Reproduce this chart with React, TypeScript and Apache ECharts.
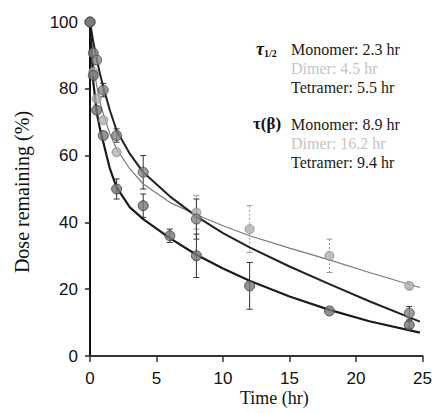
import React, { useEffect, useRef } from "react";
import * as echarts from "echarts";

// Measured data points: [time (hr), dose remaining (%)]
const monomerTimes = [0, 0.25, 0.5, 1, 2, 4, 6, 8, 12, 18, 24];
const monomerValues = [100, 84, 73.6, 66, 50, 45, 36, 30, 21, 13.5, 9.3];
const monomerErrors = [0, 0, 0, 0, 3, 3.5, 2, 6.5, 7, 0, 1];

const dimerTimes = [0, 0.25, 0.5, 1, 2, 8, 12, 18, 24];
const dimerValues = [100, 85, 77, 70.6, 61, 43, 38, 30, 21];
const dimerErrors = [0, 0, 0, 0, 0, 5, 7, 5, 1];

const tetramerTimes = [0, 0.25, 0.5, 1, 2, 4, 8, 24];
const tetramerValues = [100, 90.7, 88.6, 79.6, 66, 55, 41, 12.8];
const tetramerErrors = [0, 0, 0, 2, 2, 5, 6, 2];

// Fitted curves
const curveTimes = [0, 0.25, 0.5, 0.75, 1, 1.5, 2, 3, 4, 6, 8, 10, 12, 15, 18, 21, 24.8];
const monomerCurve = [100, 82, 73, 68, 64, 56, 50.5, 44.5, 41, 35.3, 30.3, 26.2, 22.5, 17.8, 13.8, 10.4, 7];
const dimerCurve = [100, 88, 81, 76, 72.5, 66.5, 62, 56, 51.5, 46, 42.3, 39, 36, 32.3, 28.8, 25, 20.5];
const tetramerCurve = [100, 94, 89, 84.5, 80.5, 73.5, 67.5, 60.5, 55, 47.8, 41.8, 36.8, 32.5, 26.8, 21.5, 16.4, 10.3];

const xTicks = [0, 5, 10, 15, 20, 25];
const yTicks = [0, 20, 40, 60, 80, 100];

const halfLifeLabels = ["Monomer: 2.3 hr", "Dimer: 4.5 hr", "Tetramer: 5.5 hr"];
const betaLabels = ["Monomer: 8.9 hr", "Dimer: 16.2 hr", "Tetramer: 9.4 hr"];

const zip = (a: number[], b: number[]) => a.map((x, i) => [x, b[i]]);
const zip3 = (a: number[], b: number[], c: number[]) => a.map((x, i) => [x, b[i], c[i]]);

const SERIF = "Liberation Serif";
const SANS = "Liberation Sans";

function errorSeries(data: number[][], color: string, dashed: boolean) {
  return {
    type: "custom",
    z: 1,
    silent: true,
    data: data.filter((d) => d[2] > 0),
    renderItem: (params: any, api: any) => {
      const t = api.value(0);
      const v = api.value(1);
      const e = api.value(2);
      const top = api.coord([t, v + e]);
      const bot = api.coord([t, v - e]);
      const style = { stroke: color, lineWidth: 1, lineDash: dashed ? [2, 2] : null };
      return {
        type: "group",
        children: [
          { type: "line", shape: { x1: top[0], y1: top[1], x2: bot[0], y2: bot[1] }, style },
          { type: "line", shape: { x1: top[0] - 3, y1: top[1], x2: top[0] + 3, y2: top[1] }, style: { stroke: color, lineWidth: 1 } },
          { type: "line", shape: { x1: bot[0] - 3, y1: bot[1], x2: bot[0] + 3, y2: bot[1] }, style: { stroke: color, lineWidth: 1 } },
        ],
      };
    },
  };
}

export default function App() {
  const ref = useRef<HTMLDivElement>(null);
  useEffect(() => {
    if (!ref.current) return;
    const chart = echarts.init(ref.current, undefined, { renderer: "svg" });
    const textLines = (labels: string[], y0: number) =>
      labels.map((s, i) => ({
        type: "text",
        left: 291,
        top: y0 + i * 19 - 9,
        style: {
          text: s,
          fontFamily: SERIF,
          fontSize: 16,
          fill: i === 1 ? "#c4c4c4" : "#1a1a1a",
        },
      }));
    const line = (data: number[], color: string, width: number) => ({
      type: "line",
      data: zip(curveTimes, data),
      smooth: false,
      showSymbol: false,
      symbol: "none",
      lineStyle: { color, width },
      z: 2,
    });
    chart.setOption({
      animation: false,
      backgroundColor: "#ffffff",
      grid: { left: 90, right: 11, top: 22, bottom: 57 },
      xAxis: {
        type: "value",
        min: 0,
        max: 25,
        interval: 5,
        axisLine: { show: true, onZero: false, lineStyle: { color: "#333", width: 2 } },
        axisTick: { show: true, length: 6, lineStyle: { color: "#333", width: 1.5 } },
        axisLabel: {
          margin: 14,
          fontSize: 17,
          fontFamily: SANS,
          color: "#111",
          formatter: (v: number) => (xTicks.includes(v) ? String(v) : ""),
        },
        splitLine: { show: false },
      },
      yAxis: {
        type: "value",
        min: 0,
        max: 100,
        interval: 20,
        axisLine: { show: true, lineStyle: { color: "#111", width: 2 } },
        axisTick: { show: true, length: 5, lineStyle: { color: "#222", width: 1.5 } },
        axisLabel: {
          margin: 12,
          fontSize: 17,
          fontFamily: SANS,
          color: "#111",
          formatter: (v: number) => (yTicks.includes(v) ? String(v) : ""),
        },
        splitLine: { show: false },
      },
      graphic: [
        {
          type: "text",
          left: 240,
          top: 389,
          style: { text: "Time (hr)", fontFamily: SERIF, fontSize: 18, fill: "#111" },
        },
        {
          type: "text",
          x: 22,
          y: 192,
          rotation: Math.PI / 2,
          style: {
            text: "Dose remaining (%)",
            fontFamily: SERIF,
            fontSize: 20,
            fill: "#111",
            align: "center",
            verticalAlign: "middle",
          },
        },
        {
          type: "text",
          left: 256,
          top: 40,
          style: {
            text: "{t|τ}{s|1/2}",
            rich: {
              t: { fontFamily: SERIF, fontSize: 18, fontWeight: "bold", fontStyle: "italic", fill: "#111" },
              s: { fontFamily: SERIF, fontSize: 10, fontWeight: "bold", fill: "#111", padding: [8, 0, 0, 0] },
            },
          },
        },
        {
          type: "text",
          left: 253,
          top: 115,
          style: { text: "τ(β)", fontFamily: SERIF, fontSize: 17, fontWeight: "bold", fill: "#111" },
        },
        ...textLines(halfLifeLabels, 50),
        ...textLines(betaLabels, 125),
      ],
      series: [
        line(dimerCurve, "#7a7a7a", 1.2),
        line(tetramerCurve, "#222", 2),
        line(monomerCurve, "#1a1a1a", 2.2),
        errorSeries(zip3(dimerTimes, dimerValues, dimerErrors), "#9a9a9a", true),
        errorSeries(zip3(tetramerTimes, tetramerValues, tetramerErrors), "#333", false),
        errorSeries(zip3(monomerTimes, monomerValues, monomerErrors), "#333", false),
        {
          type: "scatter",
          data: zip(dimerTimes, dimerValues),
          symbolSize: 9,
          itemStyle: { color: "#b0b0b0", borderColor: "#8a8a8a", borderWidth: 1 },
          z: 3,
        },
        {
          type: "scatter",
          data: zip(tetramerTimes, tetramerValues),
          symbolSize: 10,
          itemStyle: { color: "#858585", borderColor: "#4a4a4a", borderWidth: 1 },
          z: 3,
        },
        {
          type: "scatter",
          data: zip(monomerTimes, monomerValues),
          symbolSize: 10,
          itemStyle: { color: "#777777", borderColor: "#3a3a3a", borderWidth: 1 },
          z: 3,
        },
      ],
    });
    return () => chart.dispose();
  }, []);
  return (
    <div
      ref={ref}
      style={{ position: "fixed", left: 0, top: 0, width: 435, height: 413, background: "#fff" }}
    />
  );
}
